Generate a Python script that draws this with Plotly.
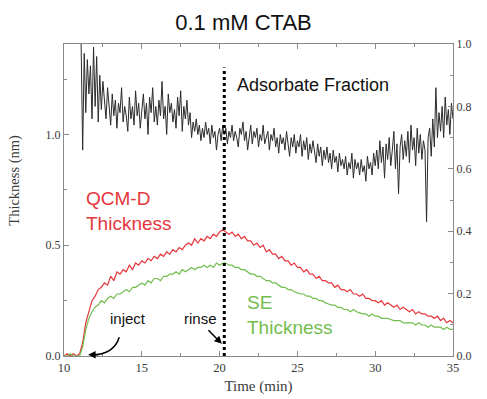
import numpy as np
import plotly.graph_objects as go

# ---------------- data ----------------
# Adsorbate fraction (right axis), sampled every 0.1 min from 11.1 to 35.0
frac_time = np.round(np.arange(11.1, 35.05, 0.1), 2)
frac_values = [
    1.00, 0.66, 0.97, 0.78, 0.95, 0.84, 0.93, 0.76, 0.99, 0.80,
    0.96, 0.75, 0.90, 0.79, 0.88, 0.83, 0.76, 0.86, 0.80, 0.74,
    0.84, 0.77, 0.82, 0.73, 0.81, 0.78, 0.86, 0.75, 0.80, 0.77,
    0.72, 0.83, 0.76, 0.80, 0.74, 0.85, 0.77, 0.81, 0.73, 0.79,
    0.84, 0.76, 0.81, 0.71, 0.83, 0.78, 0.86, 0.75, 0.80, 0.74,
    0.82, 0.77, 0.88, 0.76, 0.80, 0.71, 0.84, 0.78, 0.81, 0.75,
    0.79, 0.73, 0.83, 0.77, 0.85, 0.72, 0.80, 0.76, 0.82, 0.74,
    0.78, 0.70, 0.75, 0.72, 0.76, 0.71, 0.74, 0.69, 0.73, 0.70,
    0.75, 0.71, 0.73, 0.68, 0.74, 0.70, 0.72, 0.66, 0.71, 0.73,
    0.69, 0.74, 0.71, 0.73, 0.68, 0.72, 0.70, 0.74, 0.69, 0.72,
    0.70, 0.67, 0.73, 0.71, 0.75, 0.69, 0.72, 0.66, 0.71, 0.74,
    0.68, 0.72, 0.70, 0.73, 0.67, 0.71, 0.69, 0.74, 0.68, 0.70,
    0.72, 0.66, 0.71, 0.69, 0.73, 0.67, 0.70, 0.65, 0.71, 0.68,
    0.70, 0.66, 0.72, 0.68, 0.64, 0.70, 0.67, 0.71, 0.65, 0.69,
    0.67, 0.71, 0.64, 0.69, 0.66, 0.70, 0.63, 0.68, 0.65, 0.69,
    0.66, 0.62, 0.68, 0.64, 0.67, 0.61, 0.66, 0.63, 0.67, 0.62,
    0.65, 0.60, 0.66, 0.62, 0.64, 0.59, 0.65, 0.61, 0.63, 0.60,
    0.64, 0.58, 0.62, 0.60, 0.65, 0.57, 0.63, 0.60, 0.62, 0.58,
    0.63, 0.59, 0.61, 0.56, 0.64, 0.60, 0.62, 0.58, 0.65, 0.61,
    0.66, 0.60, 0.69, 0.62, 0.67, 0.57, 0.68, 0.63, 0.70, 0.61,
    0.66, 0.72, 0.60, 0.68, 0.52, 0.67, 0.71, 0.63, 0.69, 0.64,
    0.72, 0.62, 0.74, 0.66, 0.70, 0.61, 0.73, 0.65, 0.71, 0.63,
    0.69, 0.66, 0.43, 0.70, 0.73, 0.64, 0.76, 0.67, 0.86, 0.70,
    0.78, 0.72, 0.80, 0.70, 0.83, 0.74, 0.79, 0.71, 0.81, 0.76,
]

# Thickness series (left axis), sampled every 0.2 min from 10.0 to 35.0
thick_time = np.round(np.arange(10.0, 35.01, 0.2), 2)
qcmd_thickness = [
    0.00, 0.01, 0.00, 0.01, 0.00,
    0.01, 0.06, 0.15, 0.20, 0.25,
    0.27, 0.30, 0.31, 0.33, 0.32,
    0.36, 0.34, 0.38, 0.37, 0.39,
    0.38, 0.41, 0.39, 0.42, 0.41,
    0.43, 0.42, 0.44, 0.43, 0.45,
    0.44, 0.46, 0.45, 0.47, 0.46,
    0.48, 0.47, 0.49, 0.48, 0.50,
    0.51, 0.50, 0.53, 0.51, 0.53,
    0.52, 0.54, 0.53, 0.55, 0.54,
    0.56, 0.57, 0.56, 0.55, 0.56,
    0.54, 0.55, 0.53, 0.54, 0.52,
    0.52, 0.50, 0.51, 0.49, 0.50,
    0.47, 0.48, 0.46, 0.46, 0.44,
    0.45, 0.43, 0.43, 0.41, 0.42,
    0.40, 0.40, 0.38, 0.39, 0.37,
    0.37, 0.35, 0.36, 0.34, 0.34,
    0.33, 0.33, 0.31, 0.32, 0.30,
    0.30, 0.29, 0.30, 0.28, 0.28,
    0.27, 0.28, 0.26, 0.26, 0.25,
    0.25, 0.24, 0.25, 0.23, 0.24,
    0.23, 0.22, 0.23, 0.21, 0.22,
    0.21, 0.20, 0.21, 0.19, 0.20,
    0.19, 0.19, 0.18, 0.18, 0.17,
    0.18, 0.16, 0.17, 0.15, 0.16,
    0.15,
]
se_thickness = [
    0.00, 0.00, 0.01, 0.00, 0.00,
    0.00, 0.04, 0.12, 0.17, 0.20,
    0.22, 0.23, 0.25, 0.24, 0.26,
    0.27, 0.26, 0.28, 0.28, 0.29,
    0.30, 0.29, 0.31, 0.31, 0.32,
    0.33, 0.32, 0.34, 0.33, 0.35,
    0.35, 0.34, 0.36, 0.36, 0.37,
    0.37, 0.38, 0.37, 0.39, 0.38,
    0.39, 0.40, 0.39, 0.40, 0.40,
    0.41, 0.40, 0.41, 0.40, 0.42,
    0.41, 0.42, 0.42, 0.41, 0.41,
    0.40, 0.40, 0.39, 0.39, 0.38,
    0.37, 0.37, 0.36, 0.36, 0.35,
    0.34, 0.34, 0.33, 0.33, 0.32,
    0.31, 0.31, 0.30, 0.30, 0.29,
    0.285, 0.28, 0.28, 0.27, 0.27,
    0.26, 0.26, 0.25, 0.25, 0.24,
    0.235, 0.23, 0.23, 0.22, 0.22,
    0.21, 0.21, 0.20, 0.21, 0.20,
    0.195, 0.19, 0.19, 0.18, 0.19,
    0.18, 0.18, 0.17, 0.17, 0.17,
    0.165, 0.16, 0.16, 0.16, 0.15,
    0.15, 0.15, 0.15, 0.14, 0.15,
    0.14, 0.14, 0.13, 0.14, 0.13,
    0.13, 0.13, 0.12, 0.13, 0.12,
    0.12,
]

rinse_time = 20.3
rinse_top_frac = 0.925

x_ticks = [10, 15, 20, 25, 30, 35]
left_ticks = [0.0, 0.5, 1.0]
left_labels = ["0.0", "0.5", "1.0"]
right_ticks = [0.0, 0.2, 0.4, 0.6, 0.8, 1.0]
right_labels = ["0.0", "0.2", "0.4", "0.6", "0.8", "1.0"]

# ---------------- figure ----------------
RED = "#e5363c"
GREEN = "#72bd4e"
FRAME = "#8a8a8a"
TICKC = "#3a3a3a"
SERIF = "Liberation Serif, Times New Roman, serif"
SANS = "Liberation Sans, Arial, sans-serif"

fig = go.Figure()
fig.add_trace(go.Scatter(x=frac_time, y=frac_values, mode="lines", yaxis="y2",
                         line=dict(color="#2b2b2b", width=1), showlegend=False))
fig.add_trace(go.Scatter(x=thick_time, y=qcmd_thickness, mode="lines",
                         line=dict(color=RED, width=1.2), showlegend=False))
fig.add_trace(go.Scatter(x=thick_time, y=se_thickness, mode="lines",
                         line=dict(color=GREEN, width=1.2), showlegend=False))
fig.add_trace(go.Scatter(x=[rinse_time, rinse_time], y=[0, rinse_top_frac], mode="lines",
                         yaxis="y2", line=dict(color="black", width=3, dash="dot"),
                         showlegend=False))

# curved "inject" arrow body
fig.add_shape(type="path", xref="x", yref="y",
              path="M 13.55,0.085 Q 13.2,0.005 11.75,0.006",
              line=dict(color="black", width=1.5))

fig.update_layout(
    template="none",
    width=487, height=399,
    margin=dict(l=64, r=34, t=44, b=43, autoexpand=False),
    paper_bgcolor="white", plot_bgcolor="white",
    title=dict(text="0.1 mM CTAB", x=0.5, xanchor="center", y=0.945, yanchor="middle",
               font=dict(family=SANS, size=22, color="#111")),
    xaxis=dict(range=[10, 35], tickvals=x_ticks, ticks="inside", ticklen=5,
               tickcolor=FRAME, showline=True, linecolor=FRAME, linewidth=1.2,
               mirror="ticks", showgrid=False, zeroline=False, automargin=False,
               minor=dict(dtick=2.5, ticks="inside", ticklen=3, tickcolor=FRAME),
               tickfont=dict(family=SERIF, size=12.5, color=TICKC),
               title=dict(text="Time (min)", font=dict(family=SERIF, size=15, color=TICKC),
                          standoff=6)),
    yaxis=dict(range=[0, 1.409], tickvals=left_ticks, ticktext=left_labels,
               ticks="inside", ticklen=5, tickcolor=FRAME, showline=True,
               linecolor=FRAME, linewidth=1.2, mirror=True, showgrid=False,
               zeroline=False, automargin=False,
               minor=dict(tickvals=[0.25, 0.75, 1.25], ticks="inside", ticklen=3,
                          tickcolor=FRAME),
               tickfont=dict(family=SERIF, size=12, color=TICKC)),
    yaxis2=dict(range=[0, 1.0], overlaying="y", side="right", tickvals=right_ticks,
                ticktext=right_labels, ticks="inside", ticklen=5, tickcolor=FRAME,
                showline=True, linecolor=FRAME, linewidth=1.2, showgrid=False,
                zeroline=False, automargin=False,
                minor=dict(dtick=0.1, ticks="inside", ticklen=3, tickcolor=FRAME),
                tickfont=dict(family=SERIF, size=12, color=TICKC)),
    showlegend=False,
)

annotations = [
    dict(text="Thickness (nm)", xref="paper", yref="paper", x=-0.126, y=0.565,
         textangle=-90, showarrow=False, xanchor="center", yanchor="middle",
         font=dict(family=SERIF, size=14.5, color=TICKC)),
    dict(text="Adsorbate Fraction", xref="paper", yref="paper", x=0.44, y=0.868,
         showarrow=False, xanchor="left", yanchor="middle",
         font=dict(family=SANS, size=18, color="#111")),
    dict(text="QCM-D<br>Thickness", xref="paper", yref="paper", x=0.052, y=0.465,
         showarrow=False, xanchor="left", yanchor="middle", align="left",
         font=dict(family=SANS, size=19, color=RED)),
    dict(text="SE<br>Thickness", xref="paper", yref="paper", x=0.466, y=0.13,
         showarrow=False, xanchor="left", yanchor="middle", align="left",
         font=dict(family=SANS, size=19, color=GREEN)),
    dict(text="inject", xref="paper", yref="paper", x=0.165, y=0.12,
         showarrow=False, xanchor="center", yanchor="middle",
         font=dict(family=SANS, size=15, color="#111")),
    dict(text="rinse", xref="paper", yref="paper", x=0.35, y=0.12,
         showarrow=False, xanchor="center", yanchor="middle",
         font=dict(family=SANS, size=15, color="#111")),
    # arrow heads
    dict(x=11.55, y=0.006, xref="x", yref="y", ax=12, ay=0, text="", showarrow=True,
         arrowhead=2, arrowsize=1, arrowwidth=1.5, arrowcolor="black"),
    dict(x=20.15, y=0.055, xref="x", yref="y", ax=-15, ay=-15, text="", showarrow=True,
         arrowhead=2, arrowsize=1, arrowwidth=1.5, arrowcolor="black"),
]
fig.update_layout(annotations=annotations)

fig.write_html("out.html", config={"displayModeBar": False},
               post_script="document.body.style.margin='0';document.body.style.padding='0';")
